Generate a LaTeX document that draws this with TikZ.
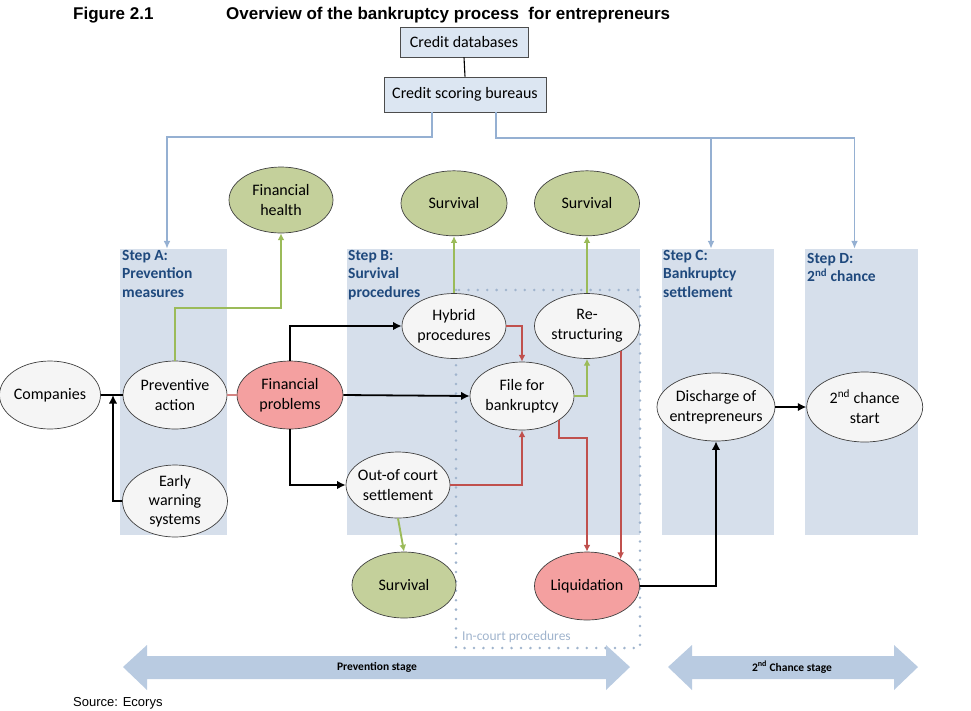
\documentclass[tikz,border=0pt]{standalone}
\usepackage{fontspec}
\setmainfont{Carlito}
\newfontfamily\arialfont{Liberation Sans}
\usetikzlibrary{arrows.meta, shapes.geometric, positioning}
\definecolor{stepfill}{RGB}{214,223,235}
\definecolor{steptext}{RGB}{31,73,125}
\definecolor{boxfill}{RGB}{220,230,242}
\definecolor{bluelink}{RGB}{149,176,210}
\definecolor{greenlink}{RGB}{155,187,89}
\definecolor{redlink}{RGB}{192,80,77}
\definecolor{greenfill}{RGB}{196,208,155}
\definecolor{redfill}{RGB}{244,160,160}
\definecolor{dotcol}{RGB}{160,180,205}
\definecolor{stagefill}{RGB}{185,203,225}
\tikzset{%
>={Latex[width=3mm,length=3mm]},
  % Specifications for style of nodes:
            base/.style = {ellipse, draw=black!75, line width=0.7pt,
                            fill=gray!8, inner xsep=-5pt, inner ysep=-3pt,
                            minimum width=104pt, minimum height=66pt, align=center,
                            font=\fontsize{16}{20}\selectfont},
            greenbase/.style = {base, fill=greenfill},
            redbase/.style = {base, fill=redfill},
            infobox/.style = {rectangle, draw=black!70, line width=0.7pt,
                            fill=boxfill, font=\fontsize{16}{19}\selectfont},
            stepcol/.style = {rectangle, fill=stepfill, inner sep=0pt,
                            minimum width=107pt, minimum height=286pt},
            steplabel/.style = {anchor=north west, align=left, inner sep=1pt,
                            text=steptext, font=\bfseries\fontsize{15.5}{18.5}\selectfont},
            blackline/.style = {draw=black, line width=1.8pt},
            greenline/.style = {draw=greenlink, line width=1.9pt, ->, >={Latex[width=2.4mm,length=2.4mm]}},
            redline/.style = {draw=redlink, line width=1.9pt, ->, >={Latex[width=2.4mm,length=2.4mm]}},
            blueline/.style = {draw=bluelink, line width=1.8pt, ->, >={Latex[width=2.4mm,length=2.8mm]}},
            stagelabel/.style = {font=\bfseries\fontsize{11.5}{13}\selectfont}
}
\begin{document}
\begin{tikzpicture}[x=1pt, y=-1pt]
\useasboundingbox (0,0) rectangle (971,710);
% title
\node[anchor=west, inner sep=0pt, font=\arialfont\bfseries\fontsize{17}{20}\selectfont] (fig) at (73,15) {Figure 2.1};
\node[anchor=west, inner sep=0pt, font=\arialfont\bfseries\fontsize{17}{20}\selectfont] (title) at (226,15) {Overview of the bankruptcy process\ \ for entrepreneurs};
% step columns
\node[stepcol] (colA) at (173.5,392) {};
\node[stepcol, minimum width=293pt] (colB) at (493.5,392) {};
\node[stepcol, minimum width=112pt] (colC) at (718,392) {};
\node[stepcol, minimum width=113pt] (colD) at (861.5,392) {};
\node[steplabel] (labA) at (121,249) {Step A:\\Prevention\\measures};
\node[steplabel] (labB) at (347,249) {Step B:\\Survival\\procedures};
\node[steplabel] (labC) at (662,249) {Step C:\\Bankruptcy\\settlement};
\node[steplabel] (labD) at (806,252) {Step D:\\2\textsuperscript{nd} chance};
% in-court box
\draw[draw=dotcol, line width=2.8pt, line cap=round, dash pattern=on 0pt off 9.4pt] (456,290) rectangle (640,648);
\node[anchor=south west, inner sep=0pt, text=dotcol, font=\fontsize{13.5}{15}\selectfont] (incourt) at (462,643) {In-court procedures};
% credit boxes
\node[infobox, minimum width=128pt, minimum height=30pt] (cdb) at (464,42) {Credit databases};
\node[infobox, minimum width=162pt, minimum height=35pt] (csb) at (465,94.5) {Credit scoring bureaus};
\draw[black, line width=1.1pt] (cdb.south) -- (csb.north);
\coordinate (cbranch) at (711,138);
\draw[blueline] ([xshift=-33pt]csb.south) -- ++(0,25) -| ([xshift=-6.5pt]colA.north);
\draw[blueline] ([xshift=31pt]csb.south) -- ++(0,26) -| ([xshift=-7pt]colD.north);
\draw[blueline] (cbranch) -- ([xshift=-7pt]colC.north);
% nodes
\node[base, minimum width=101pt, minimum height=68pt] (comp) at (50,395) {Companies};
\node[base, minimum height=68pt] (prev) at (175,395) {Preventive\\action};
\node[redbase, minimum width=106pt, minimum height=68pt] (fin) at (290,395) {Financial\\problems};
\node[base, minimum width=105pt, minimum height=72pt, font=\fontsize{16}{19}\selectfont] (early) at (175,501) {Early\\warning\\systems};
\node[greenbase] (health) at (281,200) {Financial\\health};
\node[base, minimum height=65pt] (hybrid) at (454,326) {Hybrid\\procedures};
\node[base, minimum width=105pt, minimum height=65pt] (restr) at (587,326) {Re-\\structuring};
\node[greenbase, minimum width=106pt, minimum height=65pt, above=57pt of hybrid] (surv1) {Survival};
\node[greenbase, minimum width=105pt, minimum height=65pt, above=57pt of restr] (surv2) {Survival};
\node[base, minimum height=68pt] (file) at (522,396) {File for\\bankruptcy};
\node[base] (court) at (398,485) {Out-of court\\settlement};
\node[greenbase] (surv3) at (404,585) {Survival};
\node[redbase, minimum width=105pt, minimum height=68pt] (liq) at (587,586) {Liquidation};
\node[base, minimum width=118pt, minimum height=68pt] (disch) at (716,407) {Discharge of\\entrepreneurs};
\node[base, minimum width=116pt, minimum height=70pt, right=31pt of disch] (chance) {2\textsuperscript{nd} chance\\start};
% connectors
\coordinate (join) at (113,395);
\draw[blackline] (comp.east) -- (prev.west);
\draw[blackline, ->] (early.west) -| (join);
\draw[draw=redlink!70, line width=1.3pt] (prev.east) -- (fin.west);
\draw[greenline] (prev.north) -- ++(0,-53) -| (health.south);
\draw[blackline, ->] (fin.north) |- (hybrid.west);
\draw[blackline, ->] (fin.east) -- (file.west);
\draw[blackline, ->] (fin.south) |- (court.west);
\draw[greenline] (hybrid.north) -- (surv1.south);
\draw[greenline] (restr.north) -- (surv2.south);
\draw[redline] (hybrid.east) -| (file.north);
\draw[greenline] (file.east) -| (restr.south);
\draw[redline] (court.east) -| (file.south);
\draw[redline] (file.-33) -- ++(0,18) -| (liq.north);
\draw[redline] (restr.-37.5) -- (restr.-37.5 |- liq.39);
\draw[greenline] (court.south) -- (surv3.north);
\draw[blackline, ->] (liq.east) -| (disch.south);
\draw[blackline, ->] (disch.east) -- (chance.west);
% stage arrows
\fill[stagefill] (123,667) -- (147,645) -- (147,656) -- (606,656) -- (606,645) -- (630,667)
  -- (606,690) -- (606,679) -- (147,679) -- (147,690) -- cycle;
\fill[stagefill] (668,667) -- (692,645) -- (692,656) -- (894,656) -- (894,645) -- (918,667)
  -- (894,690) -- (894,679) -- (692,679) -- (692,690) -- cycle;
\node[stagelabel] (prevstage) at (377,667) {Prevention stage};
\node[stagelabel] (chancestage) at (792,667) {2\textsuperscript{nd} Chance stage};
% source
\node[anchor=base west, inner sep=0pt, font=\arialfont\fontsize{13}{15}\selectfont] (src) at (73,706) {Source: Ecorys};
\end{tikzpicture}
\end{document}
